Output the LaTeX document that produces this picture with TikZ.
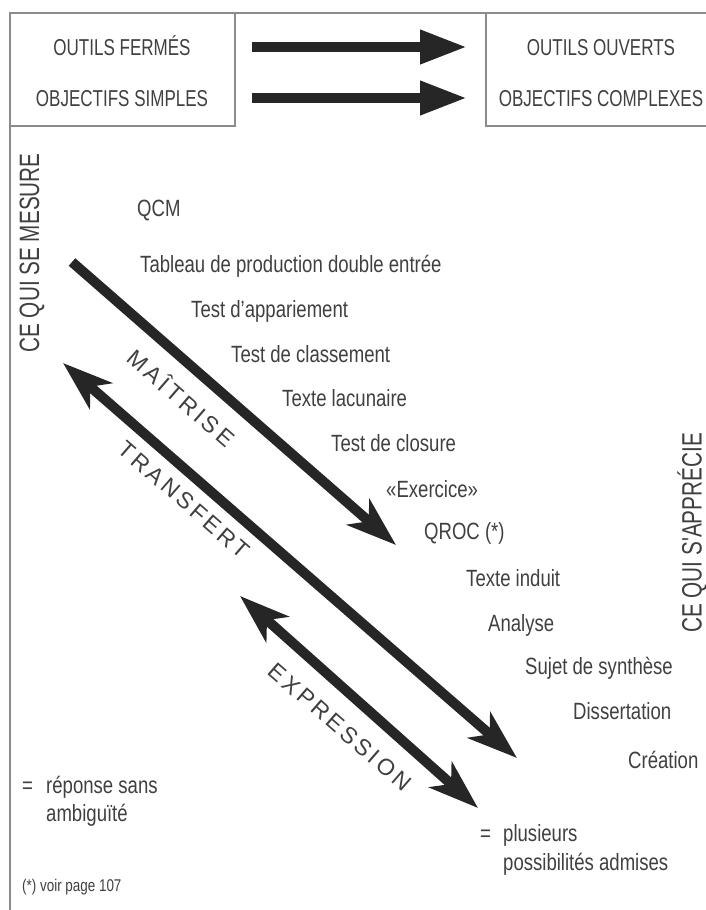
\documentclass[tikz,border=0pt]{standalone}
\usepackage{fontspec}
\setmainfont{Liberation Sans}[FakeStretch=0.79]
\newfontfamily\capsfont{Liberation Sans}[FakeStretch=0.74]
\newfontfamily\diagfont{Liberation Sans}[LetterSpace=15]
\usepackage{tikz}
\usetikzlibrary{arrows.meta,positioning}
\definecolor{ink}{HTML}{404040}
\definecolor{rulegrey}{HTML}{8C8C8C}
\definecolor{arrowfill}{HTML}{262626}
\tikzset{
  item/.style={anchor=base west,inner sep=0pt,text=ink,font=\fontsize{23.5}{27}\selectfont},
  boxtext/.style={anchor=base,inner sep=0pt,text=ink,font=\capsfont\fontsize{23}{27}\selectfont},
  side/.style={inner sep=0pt,text=ink,rotate=90,font=\capsfont\fontsize{28}{32}\selectfont},
  diag/.style={inner sep=0pt,text=ink,rotate=-41,font=\diagfont\fontsize{23}{27}\selectfont},
  ruled/.style={draw=rulegrey,line width=1.4pt},
  bigarrow/.style={draw=arrowfill,line width=10pt,-{Triangle[length=47pt,width=32pt]}},
  slant/.style={draw=arrowfill,line width=10pt,-{Stealth[length=50pt,width=34pt,inset=14pt]}},
  slantboth/.style={draw=arrowfill,line width=10pt,{Stealth[length=50pt,width=34pt,inset=14pt]}-{Stealth[length=50pt,width=34pt,inset=14pt]}}
}

\begin{document}
\begin{tikzpicture}[x=1pt,y=-1pt]
        \useasboundingbox (0,0) rectangle (706,910);
        \draw[ruled] (10,910) -- (10,13) -- (706,13);
        \draw[ruled] (10,126) -- (235,126) -- (235,13);
        \draw[ruled] (706,126) -- (486,126) -- (486,13);

        \node[boxtext] (ferme) at (122,55) {OUTILS FERMÉS};
        \node[boxtext] (simple) at (122,106) {OBJECTIFS SIMPLES};
        \node[boxtext] (ouvert) at (601,55) {OUTILS OUVERTS};
        \node[boxtext] (complexe) at (601,106) {OBJECTIFS COMPLEXES};
        \coordinate (fa) at (252,47);
        \coordinate (fb) at (467,47);
        \coordinate (sa) at (252,98);
        \coordinate (sb) at (467,98);
        \draw[bigarrow] (fa) -- (fb);
        \draw[bigarrow] (sa) -- (sb);

        \node[side] (mesure) at (32,253) {CE QUI SE MESURE};
        \node[side] (apprecie) at (692,533) {CE QUI S'APPRÉCIE};

        \foreach \x/\y/\txt [count=\i] in {137/216/QCM, 140/272/Tableau de production double entrée,
            191/317/Test d'appariement, 231/362/Test de classement, 282/406/Texte lacunaire,
            331/451/Test de closure, 386/497/«Exercice», 424/539/QROC (*), 466/586/Texte induit,
            488/631/Analyse, 525/674/Sujet de synthèse, 573/719/Dissertation, 628/768/Création}{
          \node[item] (item-\i) at (\x,\y) {\txt};
        }

        \coordinate (m-start) at (72,262);
        \coordinate (m-end) at (396,545);
        \coordinate (t-start) at (63,363);
        \coordinate (t-end) at (517,758);
        \coordinate (e-start) at (240,596);
        \coordinate (e-end) at (478,808);
        \draw[slant] (m-start) -- (m-end);
        \draw[slantboth] (t-start) -- (t-end);
        \draw[slantboth] (e-start) -- (e-end);
        \node[diag] (maitrise) at (182,397) {MAÎTRISE};
        \node[diag] (transfert) at (184,500) {TRANSFERT};
        \node[diag] (expression) at (340,727) {EXPRESSION};

        \node[item] (eq-left) at (22,793) {=};
        \node[item] (reponse) at (46,793) {réponse sans};
        \node[item] (ambigu) at (46,821) {ambiguïté};
        \node[item,font=\fontsize{17}{20}\selectfont] (note) at (22,891) {(*) voir page 107};
        \node[item] (eq-right) at (480,841) {=};
        \node[item] (plusieurs) at (503,841) {plusieurs};
        \node[item] (possible) at (503,870) {possibilités admises};
\end{tikzpicture}
\end{document}
